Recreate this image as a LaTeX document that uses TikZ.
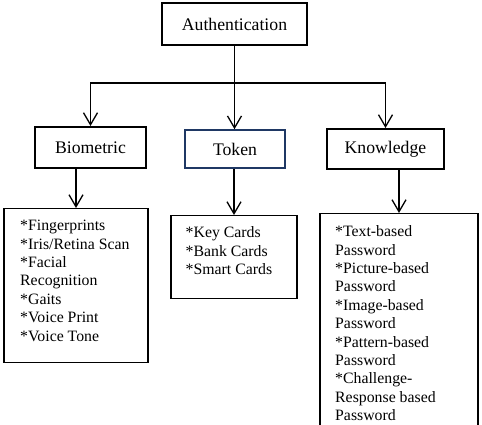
\documentclass[tikz,border=0pt]{standalone}
\usepackage{fontspec}
\setmainfont{Liberation Serif}
\usetikzlibrary{arrows.meta,positioning}
\definecolor{tokenblue}{RGB}{31,56,100}
\begin{document}
\begin{tikzpicture}[x=1pt,y=-1pt,
	head/.style={draw,line width=2pt,inner sep=0pt,minimum height=40pt,
		font=\fontsize{17.7}{20}\selectfont},
	listbox/.style={draw,line width=1.2pt,anchor=north,inner sep=0pt},
	listtext/.style={anchor=north west,inner sep=0pt,align=left,
		font=\fontsize{15.8}{18.4}\selectfont},
	arr/.style={line width=1.3pt,-{Straight Barb[length=12pt,width=14pt]}}]

\useasboundingbox (0,0) rectangle (482,424);
\clip (0,0) rectangle (482,424);

% top
\node [head,minimum width=145pt,minimum height=42pt] (auth) at (234.5,24) {Authentication};
\coordinate (split) at ([yshift=-37pt]auth.south);

% second level
\node [head,minimum width=111pt,minimum height=41pt] (bio) at (90.5,147.5) {Biometric};
\node [head,draw=tokenblue,line width=1.6pt,minimum width=100pt,minimum height=38pt] (token) at (235,149) {Token};
\node [head,minimum width=117pt] (know) at (385.5,149) {Knowledge};

% lists
\node [listbox,minimum width=144pt,minimum height=154pt] (bioList) at (76,208) {};
\node [listbox,minimum width=126pt,minimum height=83pt] (tokenList) at (234,215) {};
\node [listbox,minimum width=158pt,minimum height=240pt] (knowList) at (399,213) {};

\node [listtext] (bioText) at (20,220) {*Fingerprints\\*Iris/Retina Scan\\*Facial\\Recognition\\*Gaits\\*Voice Print\\*Voice Tone};
\node [listtext] (tokenText) at (185.5,226.5) {*Key Cards\\*Bank Cards\\*Smart Cards};
\node [listtext] (knowText) at (335,225.5) {*Text-based\\Password\\*Picture-based\\Password\\*Image-based\\Password\\*Pattern-based\\Password\\*Challenge-\\Response based\\Password};

% connectors
\draw [line width=1.3pt] (auth.south) -- (split);
\draw [arr] (split) -| (bio.north);
\draw [arr] (split) -- (split |- token.north);
\draw [arr] (split) -| (know.north);

\draw [arr] (bioList.north |- bio.south) -- (bioList.north);
\draw [arr] (tokenList.north |- token.south) -- (tokenList.north);
\draw [arr] (knowList.north |- know.south) -- (knowList.north);

\end{tikzpicture}
\end{document}
